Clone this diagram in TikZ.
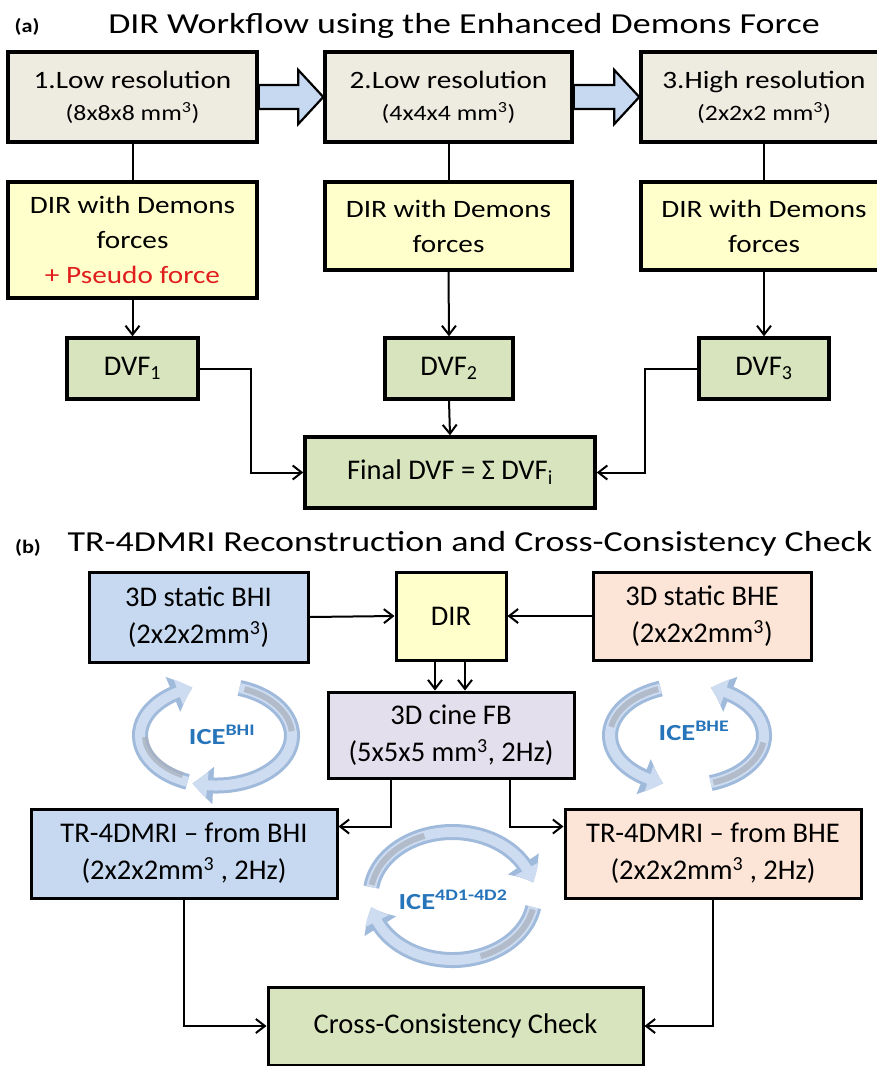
\documentclass[tikz,border=0pt]{standalone}
\usepackage{fontspec}
\setmainfont{Carlito}
\newfontfamily\widefont[FakeStretch=1.17]{Carlito}
\newfontfamily\titlefont[FakeStretch=1.24]{Carlito}
\usetikzlibrary{arrows.meta,calc,bending}

\definecolor{tanbox}{RGB}{238,236,225}
\definecolor{yelbox}{RGB}{255,255,204}
\definecolor{grnbox}{RGB}{215,228,189}
\definecolor{blubox}{RGB}{198,217,241}
\definecolor{pchbox}{RGB}{252,228,214}
\definecolor{lavbox}{RGB}{228,223,236}
\definecolor{icetext}{RGB}{38,116,186}
\definecolor{ringedge}{RGB}{160,186,220}
\definecolor{ringfill}{RGB}{205,220,240}
\definecolor{ringshade}{RGB}{168,176,190}
\definecolor{pseudored}{RGB}{225,30,30}

\begin{document}
\begin{tikzpicture}[x=1pt,y=-1pt,
  box/.style={draw=black, line width=3.4pt, inner sep=0pt, align=center,
              font=\widefont\fontsize{25}{35}\selectfont},
  flowbox/.style={draw=black, line width=3pt, inner sep=0pt, align=center,
              font=\fontsize{28.5}{37}\selectfont},
  conn/.style={line width=2pt, -{Straight Barb[length=9pt,width=14pt,line width=2pt]}},
  link/.style={line width=2pt},
  blockarrow/.style={draw=black, line width=2.2pt, fill=blubox, line join=miter},
  ringout/.style={draw=ringedge, line width=16pt,
               -{Triangle[length=21pt,width=36pt,bend]}},
  ringin/.style={draw=ringfill, line width=10pt,
               -{Triangle[length=15pt,width=26pt,bend]}},
  ringdark/.style={draw=ringshade, line width=6pt, opacity=0.75},
  icelabel/.style={text=icetext, font=\titlefont\bfseries\fontsize{23}{26}\selectfont, inner sep=0pt},
  heading/.style={font=\titlefont\fontsize{29}{34}\selectfont, anchor=base, inner sep=0pt},
  tag/.style={font=\widefont\bfseries\fontsize{19}{22}\selectfont, anchor=base, inner sep=0pt}
]
\clip (0,0) rectangle (877,1066);
\fill[white] (0,0) rectangle (877,1066);

% ---------- (a) DIR workflow ----------
\node[tag] (taga) at (27,32) {(a)};
\node[heading] (titlea) at (464,33) {DIR Workflow using the Enhanced Demons Force};

\node[box, fill=tanbox, minimum width=249pt, minimum height=90pt] (g1) at (132.5,97)
  {1.Low resolution\\[-3pt]{\fontsize{22}{28}\selectfont (8x8x8 mm\textsuperscript{3})}};
\node[box, fill=tanbox, minimum width=247pt, minimum height=90pt] (g2) at (448.5,97)
  {2.Low resolution\\[-3pt]{\fontsize{22}{28}\selectfont (4x4x4 mm\textsuperscript{3})}};
\node[box, fill=tanbox, minimum width=246pt, minimum height=90pt] (g3) at (764,97)
  {3.High resolution\\[-3pt]{\fontsize{22}{28}\selectfont (2x2x2 mm\textsuperscript{3})}};

\node[box, fill=yelbox, minimum width=249pt, minimum height=116pt] (y1) at (132.5,240)
  {DIR with Demons\\forces\\{\color{pseudored}+ Pseudo force}};
\node[box, fill=yelbox, minimum width=247pt, minimum height=88pt] (y2) at (448.5,226)
  {DIR with Demons\\forces};
\node[box, fill=yelbox, minimum width=246pt, minimum height=88pt] (y3) at (764,226)
  {DIR with Demons\\forces};

\node[box, font=\fontsize{28.5}{35}\selectfont, fill=grnbox, minimum width=131pt, minimum height=61pt] (d1) at (132.5,368.5)
  {DVF\textsubscript{1}};
\node[box, font=\fontsize{28.5}{35}\selectfont, fill=grnbox, minimum width=128pt, minimum height=61pt] (d2) at (449,368.5)
  {DVF\textsubscript{2}};
\node[box, font=\fontsize{28.5}{35}\selectfont, fill=grnbox, minimum width=130pt, minimum height=61pt] (d3) at (764,368.5)
  {DVF\textsubscript{3}};

\node[box, font=\fontsize{28.5}{35}\selectfont, fill=grnbox, minimum width=290pt, minimum height=71pt] (fin) at (450,472.5)
  {Final DVF = Σ DVF\textsubscript{i}};

% block arrows between the resolution levels
\foreach \a/\b in {g1/g2, g2/g3}{
  \draw[blockarrow] ($(\a.east)+(0,-12)$) -- ($(\b.west)+(-25,-12)$)
    -- ($(\b.west)+(-25,-27)$) -- (\b.west) -- ($(\b.west)+(-25,27)$)
    -- ($(\b.west)+(-25,12)$) -- ($(\a.east)+(0,12)$) -- cycle;
}

% vertical flow
\foreach \i in {1,2,3}{
  \draw[link] (g\i.south) -- (y\i.north);
  \draw[conn] (y\i.south) -- (d\i.north);
}
\draw[conn] (d2.south) -- (fin.north);
\draw[conn] (d1.east) -- ++(51,0) |- (fin.west);
\draw[conn] (d3.west) -- ++(-52,0) |- (fin.east);

% ---------- (b) TR-4DMRI reconstruction ----------
\node[tag] (tagb) at (28,553) {(b)};
\node[heading] (titleb) at (470,551) {TR-4DMRI Reconstruction and Cross-Consistency Check};

\node[flowbox, fill=blubox, minimum width=219pt, minimum height=90pt] (bhi) at (198.5,617)
  {3D static BHI\\(2x2x2mm\textsuperscript{3})};
\node[flowbox, fill=yelbox, minimum width=110pt, minimum height=88pt] (dir) at (451,616)
  {DIR};
\node[flowbox, fill=pchbox, minimum width=218pt, minimum height=88pt] (bhe) at (702,616)
  {3D static BHE\\(2x2x2mm\textsuperscript{3})};

\node[flowbox, fill=lavbox, minimum width=246pt, minimum height=86pt] (cine) at (451,735)
  {3D cine FB\\(5x5x5 mm\textsuperscript{3}, 2Hz)};

\node[flowbox, fill=blubox, minimum width=306pt, minimum height=89pt] (tr1) at (184,853.5)
  {TR-4DMRI – from BHI\\(2x2x2mm\textsuperscript{3} , 2Hz)};
\node[flowbox, fill=pchbox, minimum width=296pt, minimum height=89pt] (tr2) at (713,853.5)
  {TR-4DMRI – from BHE\\(2x2x2mm\textsuperscript{3} , 2Hz)};

\node[flowbox, fill=grnbox, minimum width=375pt, minimum height=78pt] (ccc) at (455.5,1026)
  {Cross-Consistency Check};

\draw[conn] (bhi.east) -- (dir.west);
\draw[conn] (bhe.west) -- (dir.east);
\draw[conn] ($(dir.south)+(-16,0)$) -- ($(cine.north)+(-16,0)$);
\draw[conn] ($(dir.south)+(14,0)$) -- ($(cine.north)+(14,0)$);
\draw[conn] ($(cine.south)+(-60,0)$) |- ($(tr1.north east)+(0,19)$);
\draw[conn] ($(cine.south)+(59,0)$) |- ($(tr2.north west)+(0,19)$);
\draw[conn] (tr1.south) |- (ccc.west);
\draw[conn] (tr2.south) |- (ccc.east);

% consistency cycles
\coordinate (cbhi) at (216,735.5);
\coordinate (cbhe) at (687,735.5);
\coordinate (c4d) at (452.5,896);

% ICE BHI: clockwise
\foreach \s/\e in {112/252, 288/468}{
  \draw[ringout] ($(cbhi)+(\s:76 and 50)$) arc[start angle=\s,end angle=\e,x radius=76,y radius=50];
  \draw[ringin]  ($(cbhi)+(\s:76 and 50)$) arc[start angle=\s,end angle=\e,x radius=76,y radius=50];
}
\draw[ringdark] ($(cbhi)+(118:71 and 45)$) arc[start angle=118,end angle=178,x radius=71,y radius=45];
\draw[ringdark] ($(cbhi)+(292:76 and 50)$) arc[start angle=292,end angle=355,x radius=76,y radius=50];
\node[icelabel] (icebhi) at (222,735) {ICE\textsuperscript{BHI}};

% ICE BHE: counter-clockwise
\foreach \s/\e in {250/108, 72/-72}{
  \draw[ringout] ($(cbhe)+(\s:77 and 50)$) arc[start angle=\s,end angle=\e,x radius=77,y radius=50];
  \draw[ringin]  ($(cbhe)+(\s:77 and 50)$) arc[start angle=\s,end angle=\e,x radius=77,y radius=50];
}
\draw[ringdark] ($(cbhe)+(248:77 and 50)$) arc[start angle=248,end angle=190,x radius=77,y radius=50];
\draw[ringdark] ($(cbhe)+(70:77 and 50)$) arc[start angle=70,end angle=8,x radius=77,y radius=50];
\node[icelabel] (icebhe) at (694,731) {ICE\textsuperscript{BHE}};

% ICE 4D1-4D2: clockwise
\foreach \s/\e in {188/348, 10/170}{
  \draw[ringout] ($(c4d)+(\s:82 and 64)$) arc[start angle=\s,end angle=\e,x radius=82,y radius=64];
  \draw[ringin]  ($(c4d)+(\s:82 and 64)$) arc[start angle=\s,end angle=\e,x radius=82,y radius=64];
}
\draw[ringdark] ($(c4d)+(190:82 and 64)$) arc[start angle=190,end angle=250,x radius=82,y radius=64];
\draw[ringdark] ($(c4d)+(12:82 and 64)$) arc[start angle=12,end angle=70,x radius=82,y radius=64];
\node[icelabel] (ice4d) at (453,900) {ICE\textsuperscript{4D1-4D2}};
\end{tikzpicture}
\end{document}
